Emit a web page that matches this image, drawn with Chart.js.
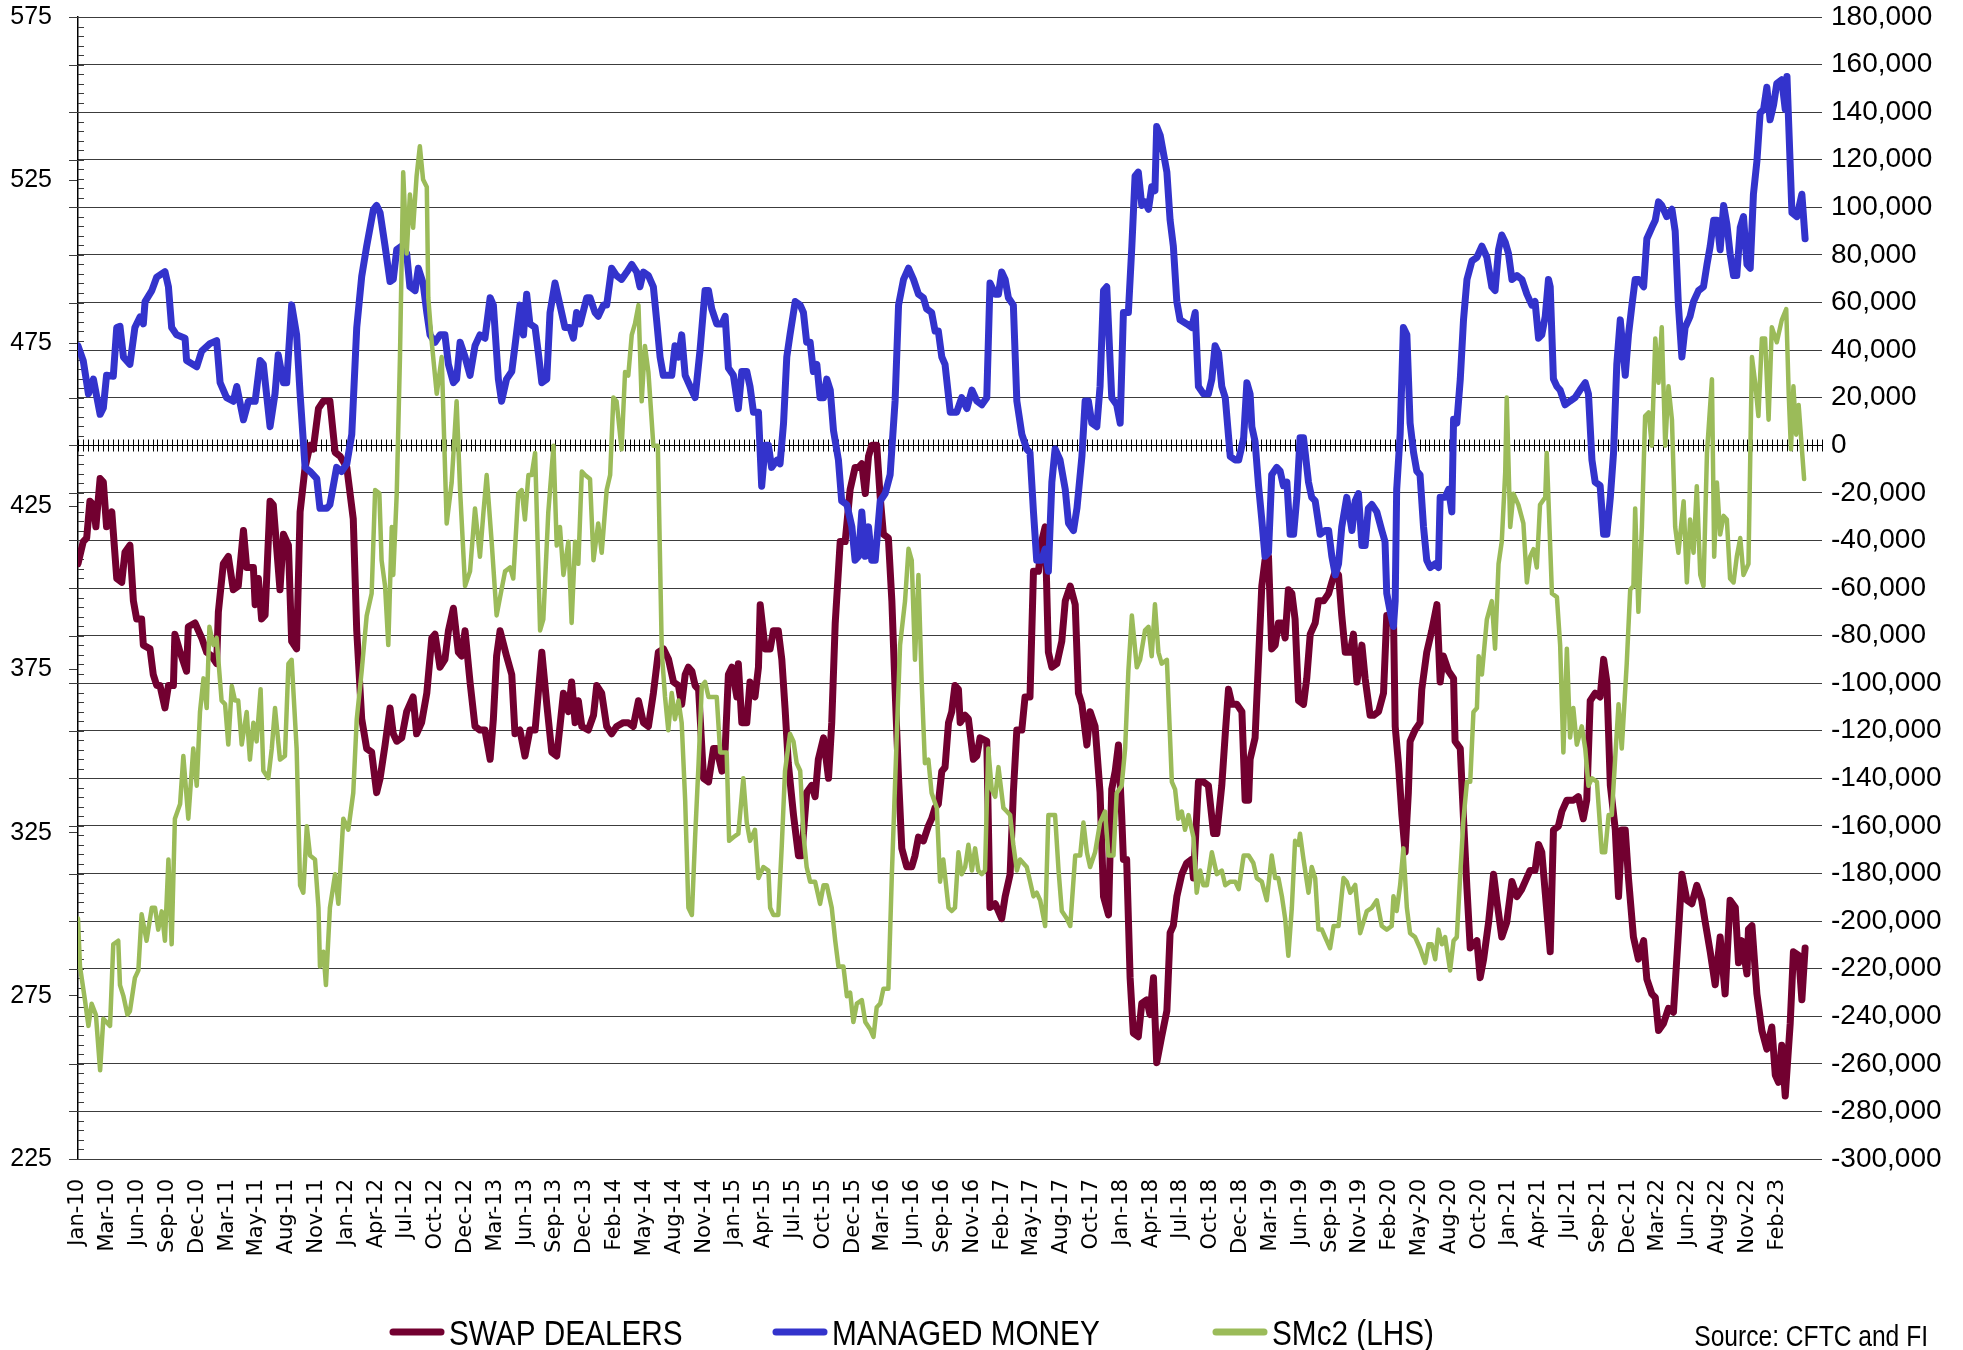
<!DOCTYPE html>
<html>
<head>
<meta charset="utf-8">
<title>Swap dealers, managed money and SMc2</title>
<script src="https://cdn.jsdelivr.net/npm/chart.js@4.4.0/dist/chart.umd.min.js"></script>
<style>
  html, body { margin: 0; padding: 0; background: #fff; }
</style>
</head>
<body>
<canvas id="chart" width="1963" height="1350"></canvas>
<script>
// weekly positions, x = week number counted from the first week of Jan-10
// one axis label every 12 weeks
var tickLabels = ['Jan-10', 'Mar-10', 'Jun-10', 'Sep-10', 'Dec-10', 'Mar-11', 'May-11', 'Aug-11', 'Nov-11',
    'Jan-12', 'Apr-12', 'Jul-12', 'Oct-12', 'Dec-12', 'Mar-13', 'Jun-13', 'Sep-13', 'Dec-13', 'Feb-14',
    'May-14', 'Aug-14', 'Nov-14', 'Jan-15', 'Apr-15', 'Jul-15', 'Oct-15', 'Dec-15', 'Mar-16', 'Jun-16',
    'Sep-16', 'Nov-16', 'Feb-17', 'May-17', 'Aug-17', 'Oct-17', 'Jan-18', 'Apr-18', 'Jul-18', 'Oct-18',
    'Dec-18', 'Mar-19', 'Jun-19', 'Sep-19', 'Nov-19', 'Feb-20', 'May-20', 'Aug-20', 'Oct-20', 'Jan-21',
    'Apr-21', 'Jul-21', 'Sep-21', 'Dec-21', 'Mar-22', 'Jun-22', 'Aug-22', 'Nov-22', 'Feb-23'];
var lastWeek = 702;

// [week, contracts]  (right axis)
var swapDealers = [
    [0,-49800],[2.1,-40500],[3.5,-39000],[4.8,-23500],[6.2,-25000],[7.2,-34300],[8.9,-14000],[10.2,-15500],[11.5,-34300],[13.6,-28000],
    [15.6,-56000],[17.6,-57600],[18.9,-45000],[20.9,-42000],[22.3,-65400],[23.6,-73000],[25.6,-73000],[26.3,-84000],[29,-85600],[30.3,-96400],
    [31.7,-101000],[33,-101000],[35,-110400],[36.4,-101000],[38.4,-101000],[39,-79400],[41.1,-87000],[43.7,-95000],[44.4,-76300],[47.1,-74700],
    [49.8,-81000],[51.8,-87000],[53.8,-88600],[55.8,-91800],[56.5,-70000],[58.5,-49800],[60.5,-46700],[62.5,-60700],[64.5,-59200],[66.6,-35800],
    [67.9,-51400],[70.6,-51400],[71.3,-67000],[72.6,-56000],[73.9,-73000],[75.3,-71400],[77.3,-23500],[78.6,-25000],[81.3,-60700],[82.7,-37400],
    [84.7,-42000],[86,-82400],[88,-85600],[89.4,-28000],[91.4,-9300],[93.4,0],[94.7,-1600],[96.8,15500],[98.8,18600],[101.4,18600],
    [103.5,-3000],[105.5,-4600],[108.2,-9300],[110.8,-31000],[112.2,-78000],[114.2,-115000],[116.2,-127500],[118.2,-129000],[120.2,-146000],[121.6,-140000],
    [123.6,-126000],[125.6,-110400],[126.9,-121300],[128.3,-124400],[130.3,-123000],[132.3,-112000],[134.9,-105800],[136.3,-121300],[138.3,-116600],[140.4,-104200],
    [142.4,-81000],[143.7,-79400],[145.7,-93300],[147.7,-90000],[149.1,-78000],[151.1,-68500],[153.1,-87000],[154.4,-88600],[155.8,-78000],[157.8,-99500],
    [159.8,-118200],[161.8,-119700],[163.8,-119700],[165.9,-132000],[167.2,-115000],[168.5,-88600],[169.9,-78000],[172.5,-88600],[174.6,-96400],[175.9,-121300],
    [177.9,-119700],[179.9,-130600],[181.9,-119700],[184,-119700],[186.7,-87000],[188.7,-108900],[190.7,-129000],[192.7,-130600],[194,-118200],[195.4,-104200],
    [197.4,-112000],[198.7,-99500],[200.1,-116600],[201.4,-107400],[202.8,-118200],[205.4,-119700],[207.5,-113500],[208.8,-101000],[210.8,-104200],[212.8,-118200],
    [214.8,-121300],[216.8,-118200],[219.5,-116600],[221.5,-116600],[223.5,-118200],[225.6,-107400],[227.6,-116600],[229.6,-118200],[231.6,-104200],[233.6,-87000],
    [235.7,-85600],[237.7,-90000],[239.7,-99500],[241.7,-101000],[243,-108900],[244.4,-96400],[245.7,-93300],[247.1,-95000],[248.4,-101000],[249.8,-102600],
    [251.8,-140000],[253.8,-141500],[255.8,-127500],[257.1,-127500],[259.2,-137000],[260.5,-127500],[261.8,-96400],[263.2,-93300],[265.2,-105800],[265.8,-91800],
    [267.2,-116600],[269.2,-116600],[270.5,-99500],[272.5,-105800],[273.9,-93300],[274.6,-67000],[276.6,-85600],[278.6,-85600],[279.9,-78000],[281.9,-78000],
    [283.3,-90000],[284.6,-110400],[285.9,-133600],[288,-155400],[290,-172500],[291.3,-172500],[293.3,-146000],[295.3,-143000],[296.7,-147700],[298,-132000],
    [300.1,-123000],[302.1,-140000],[303.4,-116600],[304.8,-74700],[306.8,-40500],[308.8,-40500],[310.8,-18600],[312.8,-9300],[314.2,-9300],[315.5,-7800],
    [316.9,-20300],[318.2,-4600],[319.5,0],[321.5,0],[322.9,-21700],[324.2,-37400],[326.2,-39000],[327.6,-65400],[328.9,-102600],[330.3,-140000],
    [331.6,-169400],[333.6,-177200],[335.6,-177200],[336.9,-172500],[338.3,-164700],[340.3,-166300],[342.3,-160000],[343.6,-157000],[345,-152300],[346.3,-150800],
    [347.7,-137000],[349,-135400],[350.4,-116600],[351.7,-112000],[353,-101000],[354.4,-102600],[355.1,-116600],[357.1,-113500],[358.4,-115000],[360.4,-132000],
    [361.8,-130600],[363.1,-123000],[365.8,-124400],[367.1,-194300],[369.2,-192700],[371.8,-199000],[373.2,-189700],[375.2,-180300],[376.5,-146000],[377.9,-119700],
    [379.9,-119700],[381.2,-105800],[383.2,-105800],[384.6,-53000],[386.6,-53000],[387.9,-40500],[389.3,-34300],[390.6,-87000],[392,-93300],[394,-91800],
    [396,-82400],[397.4,-65400],[399.4,-59200],[401.4,-67000],[402.7,-104200],[404.1,-108900],[406.1,-126000],[407.4,-112000],[409.4,-118200],[411.4,-146000],
    [412.8,-189700],[414.8,-197400],[416.1,-144600],[417.5,-137000],[418.8,-126000],[420.1,-155400],[420.8,-174100],[422.1,-174100],[423.5,-223800],[424.8,-247100],
    [426.8,-248600],[428.2,-234600],[430.2,-233100],[431.5,-239300],[432.9,-223800],[434.2,-259500],[436.2,-248600],[438.3,-237700],[439.6,-204900],[440.9,-201900],
    [442.3,-189700],[444.3,-180300],[446.3,-175600],[448.3,-174100],[449,-181900],[451,-141500],[453,-141500],[455,-143000],[457.1,-163200],[458.4,-163200],
    [460.4,-143000],[461.8,-121300],[463.1,-102600],[464.5,-108900],[466.5,-108900],[468.5,-112000],[469.8,-149200],[471.2,-149200],[471.8,-132000],[473.8,-123000],
    [475.2,-90000],[476.5,-59200],[477.8,-48300],[479.2,-46700],[480.5,-85600],[481.9,-84000],[483.2,-74700],[484.6,-74700],[485.9,-81000],[487.2,-60700],
    [488.6,-62300],[489.9,-73100],[491.3,-107400],[493.3,-108900],[494.6,-98000],[496,-79400],[498,-74700],[499.3,-65400],[501.4,-65400],[503.4,-62300],
    [504.7,-57600],[506.1,-52900],[507.4,-54500],[508.7,-71600],[510.1,-87000],[512.1,-87000],[513.4,-79400],[514.8,-99500],[516.8,-84000],[518.1,-98000],
    [520.1,-113500],[521.5,-113500],[523.5,-112000],[525.5,-104200],[526.8,-71600],[528.2,-74700],[529.5,-71600],[530.2,-118200],[531.5,-133700],[532.9,-155400],
    [534.2,-171000],[535.5,-146000],[536.2,-124400],[538.2,-119700],[540.2,-116600],[540.9,-102600],[542.9,-87000],[544.9,-78000],[547,-67000],[548.3,-99500],
    [549.6,-88600],[551.7,-95000],[553.7,-98000],[554.3,-124400],[556.4,-127500],[557.7,-157000],[559.1,-186500],[560.4,-211300],[563.1,-208200],[564.4,-223800],
    [565.8,-216000],[567.8,-200500],[569.8,-180300],[571.1,-191200],[573.1,-206700],[575.1,-200500],[577.2,-183400],[579.2,-189700],[581.2,-186500],[582.5,-183400],
    [584.5,-178700],[586.5,-178700],[587.9,-167800],[589.2,-171000],[590.6,-188100],[592.6,-212900],[593.9,-161700],[595.9,-160100],[597.3,-153900],[599.3,-149200],
    [601.9,-149200],[603.9,-147700],[605.9,-157000],[607.3,-149200],[608.7,-107400],[610.7,-104200],[612.7,-105800],[614.1,-90000],[615.4,-99500],[616.8,-143000],
    [618.8,-161700],[620.1,-189700],[621.4,-161700],[622.8,-161700],[624.1,-181900],[626.1,-206700],[628.1,-216000],[630.2,-208200],[631.5,-224400],[633.5,-230600],
    [634.9,-232100],[636.2,-246000],[638.2,-243000],[640.2,-236700],[642.2,-238300],[644.2,-205000],[645.6,-180300],[647.6,-191200],[649.6,-192700],[651.6,-185000],
    [653.6,-191200],[655,-200500],[657,-212900],[659,-226800],[661,-206700],[663,-230600],[665,-191200],[667.1,-194300],[668.4,-217500],[669.7,-208200],
    [671.8,-222200],[672.4,-203400],[673.8,-201900],[675.8,-230600],[677.8,-246000],[679.8,-253800],[681.8,-244500],[683.2,-264700],[684.5,-267800],[685.8,-252200],
    [687.2,-273500],[689.2,-243000],[690.5,-212900],[692.6,-214400],[693.9,-233100],[695.2,-211300]
];

// [week, contracts]  (right axis)
var managedMoney = [
    [0,41800],[2.1,35600],[4.2,21600],[6.2,27800],[8.9,13000],[10.2,15700],[11.5,29400],[14.2,29000],[15.6,49500],[16.9,50000],
    [18.3,37000],[20.9,34000],[22.9,49500],[25,54000],[26.3,51000],[27,60400],[29.7,65000],[31.7,70700],[35,73000],[36.4,66600],
    [37.7,49500],[39.7,46400],[43.1,45000],[43.7,35600],[47.8,33000],[49.8,39600],[53.1,42700],[55.8,44000],[57.2,26300],[59.8,20000],
    [62.5,18500],[63.9,24700],[66.6,10700],[68.6,18500],[71.3,18500],[73.3,35600],[74.6,34000],[77.3,7800],[79.3,21600],[80.6,38000],
    [82.7,26300],[84,26300],[86,59000],[88,46400],[89.4,21600],[91.4,-9300],[93.4,-11000],[96.1,-14000],[97.4,-26500],[100.1,-26500],
    [101.4,-25000],[104.1,-9300],[106.1,-11000],[108.2,-7800],[110.2,4600],[112.2,49500],[114.2,71000],[116.2,83700],[118.9,99000],[120.2,100800],
    [121.6,97700],[123.6,83700],[125.6,68800],[126.9,69700],[128.3,82200],[130.3,83700],[132.3,80600],[133.6,66600],[135.7,65000],[137,74400],
    [138.9,68200],[140.4,55800],[141.7,46400],[143.7,43300],[145.7,46400],[147.7,46400],[149.1,34000],[151.1,26300],[152.4,27800],[153.8,43300],
    [155.8,37100],[157.8,29400],[159.8,41800],[161.8,46400],[163.8,45000],[165.9,62000],[167.2,58900],[169.2,27800],[170.5,18500],[172.5,27800],
    [174.6,31000],[175.9,41800],[177.9,58900],[179.3,46400],[180.6,63500],[181.9,51000],[184,49500],[185.3,38700],[186.7,26300],[188.7,27800],
    [190,55800],[192,68200],[194,58900],[196,49500],[198,49500],[199.4,45000],[200.7,55800],[202.1,51000],[204.8,62000],[206.1,62000],
    [208.1,55800],[209.4,54200],[211.5,58900],[212.8,58900],[214.8,74400],[216.8,71300],[218.8,69700],[220.9,72800],[222.9,76000],[224.9,72800],
    [226.2,66600],[227.6,72800],[229.6,71300],[231.6,66600],[232.9,52700],[234.3,37100],[235.6,29400],[237,29400],[239,29400],[240.3,41800],
    [241.7,37000],[243,46400],[244.4,29400],[246.4,24700],[248.4,20000],[250.4,40200],[252.4,65000],[253.8,65000],[255.1,57300],[257.1,51000],
    [259.2,51000],[260.5,54200],[261.8,32500],[263.8,29400],[265.8,15400],[267.2,31000],[269.2,31000],[270.5,24700],[271.9,13900],[273.9,13900],
    [275.2,-17200],[276.6,0],[277.9,0],[279.2,-9300],[281.3,-6300],[282.6,-7800],[284,9300],[285.3,37100],[286.6,46400],[288.7,60400],
    [290.7,58900],[292,55800],[293.3,43300],[294.7,43300],[296,31000],[297.4,34000],[298.7,20000],[300.1,20000],[301.4,27800],[302.8,23200],
    [304.1,6200],[306.1,-6300],[307.4,-23400],[309.5,-25000],[311.5,-34300],[312.8,-48300],[314.2,-46700],[315.5,-28100],[316.9,-46700],[318.2,-34300],
    [319.5,-48300],[320.9,-48300],[322.9,-23400],[324.9,-20300],[326.9,-12400],[328.9,18600],[330.3,59000],[332.3,69700],[334.3,74400],[336.3,69700],
    [338.3,63500],[340.3,62000],[341.6,57300],[343.6,55800],[345,48000],[346.3,48000],[347.7,37100],[349,34000],[351.1,13900],[353.7,13900],
    [355.7,20000],[357.8,15400],[359.8,23200],[361.8,18600],[363.8,17000],[365.8,20000],[367.1,68200],[369.2,63500],[370.5,63500],[371.8,72800],
    [373.2,69700],[374.5,62000],[376.5,58900],[377.9,18600],[379.9,4700],[381.9,-1600],[383.2,-3100],[384.6,-28000],[385.9,-48300],[387.9,-48300],
    [389.3,-43600],[390.6,-53000],[392,-15500],[393.3,-1600],[395.3,-6200],[397.4,-18600],[398.7,-32800],[400.7,-35900],[402.1,-26500],[404.1,-4700],
    [405.4,18600],[406.7,18600],[408.1,9300],[410.1,7800],[411.4,24700],[412.8,65000],[414.1,66600],[416.1,20000],[418.1,17000],[419.5,9300],
    [420.8,55800],[422.8,55800],[424.2,83700],[425.5,113200],[426.8,114800],[428.2,100800],[429.5,102300],[430.9,99200],[432.2,108600],[433.5,107000],
    [434.2,134000],[435.6,130300],[438.3,114800],[439.6,94600],[440.9,83700],[442.3,60400],[443.6,52700],[446.3,51000],[448.3,49500],[449.7,55800],
    [451,24700],[453,21600],[455,21600],[456.4,27800],[457.7,41800],[459.1,38700],[460.4,24700],[461.8,20000],[463.8,-4700],[465.8,-6200],
    [467.2,-6200],[469.2,3100],[470.5,26300],[471.8,21600],[472.5,7800],[473.8,1600],[475.2,-17000],[476.5,-31200],[477.8,-46700],[479.2,-45100],
    [480.5,-12400],[482.5,-9300],[483.9,-10900],[485.2,-17000],[486.6,-15500],[487.9,-37400],[489.3,-37400],[490.6,-21900],[491.9,3100],[493.3,3100],
    [495.3,-15500],[496.6,-21900],[498,-23400],[500,-37400],[502,-35800],[503.4,-35800],[504.7,-46700],[506.1,-54500],[507.4,-49800],[508.7,-34300],
    [510.7,-21900],[512.8,-35800],[514.1,-23400],[515.4,-20300],[516.8,-42100],[518.1,-42100],[519.4,-26500],[520.8,-24900],[522.8,-28000],[524.8,-35800],
    [526.1,-40500],[526.8,-62300],[528.2,-70000],[529.5,-76200],[530.2,-65400],[530.8,-18600],[532.2,4700],[533.5,49500],[534.9,46400],[536.2,9300],
    [537.6,-3100],[538.9,-10900],[540.2,-12400],[541.6,-34300],[542.9,-48300],[544.3,-51400],[546.3,-49800],[547.6,-51400],[548.3,-21900],[550.3,-21900],
    [551.7,-18600],[553,-28000],[553.7,10900],[555,9300],[556.4,27800],[557.7,52700],[559.1,69700],[561.1,77500],[563.1,79000],[565.1,83700],
    [567.1,79000],[569.1,66600],[570.4,65000],[571.8,82200],[573.1,88400],[574.5,85300],[575.8,80600],[577.2,69700],[579.2,71300],[581.2,69700],
    [583.2,63500],[585.2,58900],[586.5,60400],[587.9,45000],[589.2,46400],[590.6,54200],[591.9,69700],[592.6,66600],[593.9,27800],[595.3,24700],
    [596.6,23200],[598.6,17000],[600.6,18600],[602.6,20000],[604.6,23200],[606.7,26300],[608,21600],[609.4,-6200],[610.7,-15500],[612.7,-17000],
    [614.1,-37400],[615.4,-37400],[616.8,-21900],[618.1,-3100],[619.4,34000],[620.8,52700],[622.8,29400],[624.1,46400],[625.5,58900],[626.8,69700],
    [628.1,69700],[630.2,66600],[631.5,86800],[633.5,91500],[634.9,94600],[636.2,102300],[637.5,100800],[639.5,96100],[641.6,99200],[642.9,90000],
    [644.2,58900],[645.6,37100],[646.9,49500],[648.9,54200],[650.3,60400],[652.3,65000],[654.3,66600],[655.7,76000],[657,83700],[658.4,94600],
    [659.7,94600],[661,82200],[662.4,100800],[663.7,93000],[665,80600],[666.4,71300],[667.7,71300],[669.1,91500],[670.4,96100],[671.8,76000],
    [673.1,74400],[674.4,105500],[675.8,119400],[677.1,139600],[678.5,141200],[679.8,150500],[681.1,136800],[682.5,143000],[683.8,152000],[685.8,153600],
    [687.2,141200],[687.9,155000],[689.9,97700],[691.9,96100],[693.9,105500],[695.2,86800]
];

// [week, level]  (left axis)
var smc2 = [
    [0,298.7],[0.8,284],[2.8,273.7],[4.2,265.8],[5.5,272.6],[7.2,269.2],[8.9,252.2],[10.2,268],[12.9,265.8],[14.2,290.8],
    [16.2,291.9],[16.9,278.3],[18.3,274.9],[19.9,269.2],[20.9,270.3],[22.9,280.5],[24.3,282.8],[25.6,300],[27.6,291.9],[29.7,302],
    [31,302],[32.3,295.3],[33.7,300.9],[35,291.9],[36.4,316.8],[37.7,290.8],[39,329.3],[41.1,333.8],[42.4,348.5],[44.4,329.3],
    [46.4,350.8],[47.8,339.4],[49.1,362],[50.5,372.3],[51.8,363.2],[52.9,388.1],[54.5,382.5],[55.8,384.7],[57.8,365.5],[59.2,364.4],
    [60.5,352],[61.9,370],[63.2,365.5],[64.5,365.5],[65.9,352],[67.9,362],[69.2,347.4],[70.6,358.7],[71.9,353],[73.5,369],
    [74.6,344],[76.6,341.7],[78,350.8],[79.3,363.2],[81.3,347.4],[83.3,348.5],[84.7,376.8],[86,378],[88,350.8],[89.4,308.9],
    [90.7,306.6],[92.1,327],[93.4,318],[95.4,316.8],[96.8,302],[97.4,284],[98.8,288.5],[99.8,278.3],[101.4,302],[103.5,312.3],
    [104.8,303.2],[106.8,329.3],[108.8,325.9],[110.8,337.2],[112.2,359.8],[114.2,374.6],[116.2,391.5],[118.2,398.3],[119.6,430],[121.3,429],
    [122.2,408.5],[123.6,400.6],[124.9,382.5],[126.3,418.7],[126.9,404],[128.3,428.9],[129.6,470.8],[130.9,527.4],[132.3,502.5],[133.6,520.6],
    [134.9,510.4],[136.3,526.3],[137.6,535.4],[138.9,525.2],[140.4,522.9],[141,488.9],[142.4,475.3],[144.4,459.5],[146.4,470.8],[148.4,419.8],
    [150.4,432.3],[152.4,457.2],[153.8,430],[155.8,400.6],[157.8,405.1],[159.8,424.4],[161.8,409.6],[163.2,423.2],[164.5,434.6],[166.5,414.2],
    [168.5,391.6],[169.9,397.2],[171.9,405.1],[173.9,406.3],[175.2,402.9],[177.2,428.9],[178.6,430],[179.9,421],[181.3,434.6],[182.6,434.6],
    [184,441.4],[186,387],[187.3,390.4],[189.3,423.2],[191.4,443.6],[192.7,413],[194,418.7],[195.4,404],[197.4,414.2],[198.7,389.3],
    [200.1,414.2],[201.4,407.4],[202.8,435.7],[204.1,434.6],[206.1,433.4],[207.5,408.5],[209.4,419.8],[210.8,410.8],[212.8,430],[214.2,434.6],
    [215.5,458.4],[216.8,457.2],[218.8,442.5],[220.2,466.2],[221.5,465.1],[222.9,477.6],[224.2,481],[225.6,486.7],[226.9,457.2],[228.2,474.2],
    [229.6,466.2],[231.6,443.6],[233.4,443.6],[235,380.3],[236.3,366.6],[237.6,356.4],[239,367.8],[240.3,359.8],[241.7,365.5],[243,358.7],
    [244.4,334.9],[245.7,302],[247.1,299.8],[248.4,323.6],[249.8,346.3],[251.1,370],[252.4,371.2],[253.8,366.6],[255.8,366.6],[257.1,366.6],
    [258.5,349.6],[259.8,349.6],[261.1,349.6],[262.1,322.5],[263.8,323.6],[265.8,324.7],[267.8,341.7],[269.2,328.1],[270.5,322.5],[272.5,325.9],
    [273.9,311.1],[275.9,314.5],[277.9,313.4],[278.6,302],[279.9,299.8],[281.9,299.8],[283.3,321.3],[284.6,344],[286.6,355.3],[288,353],
    [289.3,346.3],[290.7,344],[292,324.7],[293.3,314.5],[294.7,310],[296.7,310],[298.7,303.2],[300.1,308.9],[301.4,308.9],[303.4,302],
    [304.8,291.9],[306.1,284],[308.1,284],[309.5,274.9],[310.8,276],[312.1,267],[313.5,272.6],[315.5,273.7],[316.9,267],[318.9,264.7],
    [320.2,262.4],[321.5,271.5],[322.9,272.6],[324.2,277.2],[326.2,277.2],[327.6,312.3],[329.6,355.3],[330.9,382.5],[332.9,396],[334.3,412],
    [335.6,408.5],[336.9,378],[338.3,404],[339.6,371.2],[340.9,346.3],[342.3,347.4],[343.6,337.2],[345.7,332.6],[347,310],[348.3,316.8],
    [350.4,302],[351.7,301],[353,302],[354.4,319],[355.7,312.3],[357.1,314.5],[358.4,321.3],[359.8,313.4],[361.1,320.2],[362.4,313.4],
    [363.8,312.3],[365.1,313.4],[366.4,350.8],[367.8,338.3],[369.2,336],[370.5,345.1],[372.5,332.6],[373.9,331.5],[375.2,330.4],[376.5,321.3],
    [377.9,313.4],[379.2,316.8],[381.9,314.5],[384.6,305.5],[385.9,306.6],[387.3,304.3],[389.3,296.4],[390.6,330.4],[393.3,330.4],[394.7,313.4],
    [396,301],[398,298.7],[399.4,296.4],[401.4,318],[403.4,318],[404.7,328.1],[406.1,319],[407.4,314.5],[409.4,319],[411.4,328.1],
    [413.4,331.5],[414.8,318],[416.8,318],[418.1,337.2],[420.1,339.4],[421.5,350.8],[422.8,374.6],[424.2,391.6],[426.2,375.7],[427.5,378],
    [429.5,387],[430.9,388.1],[432.2,379.1],[433.5,395],[434.9,380.3],[436.2,376.8],[438.3,378],[440.3,340.6],[441.6,338.3],[442.9,329.3],
    [444.3,331.5],[445.6,325.9],[447,330.4],[449,323.6],[450.3,306.6],[451.7,313.4],[453,308.9],[454.4,308.9],[456.4,319],[458.4,312.3],
    [460.4,313.4],[461.8,308.9],[463.8,310],[465.8,310],[467.2,307.7],[469.2,318],[471.2,318],[473.1,315.7],[474.5,311.1],[476.5,310],
    [478.5,304.3],[480.5,318],[481.9,311.1],[483.2,311.1],[484.6,305.5],[485.9,298.7],[487.2,287.3],[488.6,302],[489.9,322.5],[491.3,321.3],
    [491.9,324.7],[493.3,316.8],[495.3,306.6],[496.6,314.5],[498,311.1],[499.3,295.3],[500.7,295.3],[502,293],[504,289.6],[505.4,296.4],
    [507.4,296.4],[509.4,311.1],[510.7,310],[512.1,306.6],[514.1,309],[516.1,294.2],[517.4,297.5],[518.8,301],[520.8,302],[522.8,304.3],
    [524.8,296.4],[526.8,295.3],[528.8,296.4],[529.5,305.5],[530.8,301],[532.2,309],[533.5,320.2],[534.9,302],[536.2,294.2],[538.2,293],
    [540.2,289.6],[542.3,285.1],[543.6,290.8],[544.9,290.8],[546.3,286.2],[547.6,295.3],[549,290.8],[550.3,293],[552.3,282.8],[553.7,291.9],
    [555,293],[556.4,312.3],[557.7,329.3],[559.1,340.6],[560.4,340.6],[561.7,362],[563.1,363.2],[563.8,379.1],[565.1,373.5],[567.1,390.4],
    [569.1,396],[570.4,381.4],[571.8,407.4],[573.1,414.2],[574.5,435.7],[575.1,458.4],[576.5,418.7],[577.8,428.9],[579.8,425.5],[581.8,419.8],
    [583.2,401.7],[584.5,409.6],[585.9,411.9],[587.2,406.3],[588.5,425.5],[590.6,427.8],[591.2,441.4],[593.3,398.3],[595.3,397.2],[596.6,382.5],
    [597.9,349.6],[599.3,381.4],[600.6,354.2],[601.9,363.2],[603.3,352],[605.3,357.6],[606.7,350.8],[608,339.4],[609.4,341.7],[611.4,340.6],
    [613.4,319],[614.7,319],[616.1,330.4],[617.4,330.4],[618.8,348.5],[620.1,364.4],[621.4,350.8],[623.4,376.8],[624.8,399.5],[626.1,400.6],
    [626.8,424.4],[628.1,392.7],[629.5,418.7],[630.8,452.7],[632.2,453.8],[633.5,443.6],[634.9,476.5],[636.2,462.9],[637.5,479.9],[638.9,443.6],
    [640.2,461.8],[641.6,451.6],[642.9,418.7],[644.2,410.8],[646.3,426.6],[647.6,401.7],[648.9,421],[650.3,410.8],[651.6,431.2],[653,404],
    [654.3,400.6],[655.7,441.4],[657.7,464],[658.6,409.6],[659.7,432.3],[661,416.4],[662.4,422.1],[663.7,421],[665,402.9],[666.4,401.7],
    [667.7,409.6],[669.1,415.3],[670.4,404],[672.4,407.4],[673.8,470.8],[675.1,462.9],[676.4,452.7],[677.8,476.5],[679.1,476.5],[680.5,451.6],
    [681.8,479.9],[683.8,475.3],[685.8,482.1],[687.6,485.5],[688.6,459.5],[689.5,442.5],[690.5,461.8],[691.6,447],[692.6,456.1],[694.8,433.4]
];

var colors = {
    swap: '#720030',
    mm: '#3333cc',
    smc2: '#9bbb59',
    grid: '#3c3c3c'
};
var axisFont = "'Liberation Sans', Arial, sans-serif";

function toPoints(rows) {
    return rows.map(function (r) { return { x: r[0], y: r[1] }; });
}

// keep the plot area where the original sits: no extra room for half labels
function noEdgePadding(s) {
    s.paddingTop = 0;
    s.paddingBottom = 0;
}

// narrow text: regular face squeezed sideways
function narrowText(ctx, text, x, y, squeeze) {
    ctx.save();
    ctx.translate(x, y);
    ctx.scale(squeeze, 1);
    ctx.fillText(text, 0, 0);
    ctx.restore();
}

// gridline stubs, minor ticks, zero axis, legend and source note
var chartDecor = {
    id: 'chartDecor',
    beforeDatasetsDraw: function (chart) {
        var ctx = chart.ctx, a = chart.chartArea;
        var x = chart.scales.x, yR = chart.scales.yR;
        ctx.save();
        ctx.lineWidth = 1;
        ctx.strokeStyle = colors.grid;
        ctx.beginPath();
        yR.ticks.forEach(function (t) {
            var y = Math.round(yR.getPixelForValue(t.value)) + 0.5;
            ctx.moveTo(a.left - 9, y);
            ctx.lineTo(a.left, y);
        });
        for (var v = yR.min; v <= yR.max; v += 4000) {
            var ym = Math.round(yR.getPixelForValue(v)) + 0.5;
            ctx.moveTo(a.left, ym);
            ctx.lineTo(a.left + 6, ym);
        }
        ctx.stroke();

        // the week axis crosses at zero on the right axis
        var y0 = Math.round(yR.getPixelForValue(0)) + 0.5;
        ctx.strokeStyle = '#000';
        ctx.beginPath();
        ctx.moveTo(a.left, y0);
        ctx.lineTo(a.right, y0);
        for (var w = x.min; w <= x.max; w += 2) {
            var px = Math.round(x.getPixelForValue(w)) + 0.5;
            ctx.moveTo(px, y0 - 6);
            ctx.lineTo(px, y0 + 6);
        }
        ctx.stroke();
        ctx.restore();
    },
    afterDraw: function (chart) {
        var ctx = chart.ctx;
        var legendX = [389, 772, 1212];
        var legendY = 1332;
        ctx.save();
        ctx.font = '35px ' + axisFont;
        ctx.textBaseline = 'alphabetic';
        ctx.textAlign = 'left';
        chart.data.datasets.forEach(function (ds, i) {
            ctx.strokeStyle = ds.borderColor;
            ctx.lineWidth = 7;
            ctx.lineCap = 'round';
            ctx.beginPath();
            ctx.moveTo(legendX[i] + 4, legendY);
            ctx.lineTo(legendX[i] + 52, legendY);
            ctx.stroke();
            ctx.fillStyle = '#000';
            narrowText(ctx, ds.label, legendX[i] + 60, legendY + 13, 0.85);
        });
        ctx.font = '30px ' + axisFont;
        ctx.textAlign = 'right';
        narrowText(ctx, 'Source: CFTC and FI', 1928, 1346, 0.82);
        ctx.restore();
    }
};

new Chart(document.getElementById('chart'), {
    type: 'line',
    data: {
        datasets: [{
            label: 'SWAP DEALERS',
            data: toPoints(swapDealers),
            yAxisID: 'yR',
            borderColor: colors.swap,
            borderWidth: 7,
            order: 2
        }, {
            label: 'MANAGED MONEY',
            data: toPoints(managedMoney),
            yAxisID: 'yR',
            borderColor: colors.mm,
            borderWidth: 7,
            order: 1
        }, {
            label: 'SMc2 (LHS)',
            data: toPoints(smc2),
            yAxisID: 'yL',
            borderColor: colors.smc2,
            borderWidth: 4.5,
            order: 0
        }]
    },
    options: {
        responsive: false,
        animation: false,
        events: [],
        layout: { padding: { top: 17, left: 0, right: 0, bottom: 0 } },
        elements: {
            point: { radius: 0 },
            line: { tension: 0, borderJoinStyle: 'round', borderCapStyle: 'round', fill: false }
        },
        plugins: {
            legend: { display: false },
            tooltip: { enabled: false }
        },
        scales: {
            x: {
                type: 'linear',
                min: 0,
                max: lastWeek,
                afterFit: function (s) { s.height = 191; s.paddingLeft = 0; s.paddingRight = 0; },
                grid: { display: false, drawTicks: false },
                border: { display: false },
                ticks: {
                    stepSize: 12,
                    includeBounds: false,
                    autoSkip: false,
                    minRotation: 90,
                    maxRotation: 90,
                    padding: 20,
                    color: '#000',
                    font: { family: "'DejaVu Sans', sans-serif", size: 21 },
                    callback: function (v) {
                        var label = tickLabels[v / 12];
                        return label === undefined ? null : label;
                    }
                }
            },
            yL: {
                position: 'left',
                min: 225,
                max: 575,
                afterFit: function (s) { s.width = 78; noEdgePadding(s); },
                grid: { drawOnChartArea: false, drawTicks: true, tickLength: 9, color: colors.grid },
                border: { display: true, color: '#000', width: 1.5 },
                ticks: {
                    stepSize: 50,
                    padding: 17,
                    color: '#000',
                    font: { family: axisFont, size: 25 }
                }
            },
            yR: {
                position: 'right',
                min: -300000,
                max: 180000,
                afterFit: function (s) { s.width = 141; noEdgePadding(s); },
                grid: { drawTicks: false, color: colors.grid, lineWidth: 1 },
                border: { display: false },
                ticks: {
                    stepSize: 20000,
                    padding: 9,
                    color: '#000',
                    font: { family: axisFont, size: 28 },
                    callback: function (v) { return v.toLocaleString('en-US'); }
                }
            }
        }
    },
    plugins: [chartDecor]
});
</script>
</body>
</html>
